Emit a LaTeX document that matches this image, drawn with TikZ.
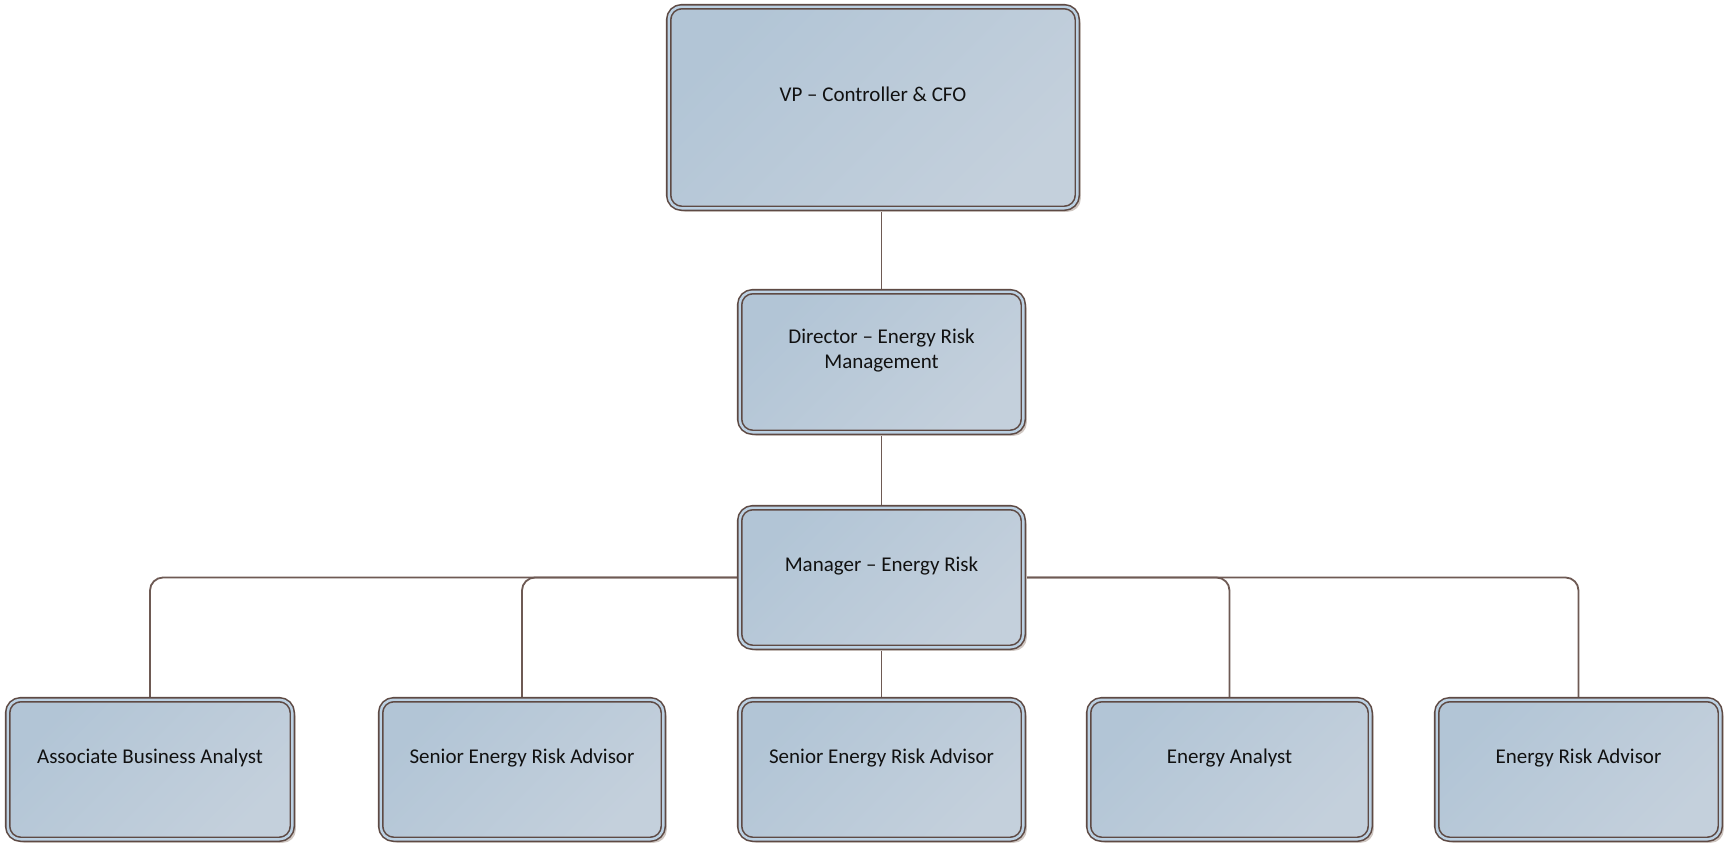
\documentclass[tikz,border=0pt]{standalone}
\usepackage{fontspec}
\setmainfont{Carlito}
\usetikzlibrary{shadows,backgrounds}
\definecolor{brd}{HTML}{5E4A44}
\definecolor{fillA}{HTML}{B2C5D6}
\definecolor{fillB}{HTML}{C4D0DC}
\definecolor{dbl}{HTML}{BCD1E3}
\definecolor{shd}{HTML}{CFC7C2}
\definecolor{connc}{HTML}{6E5A54}
\definecolor{txt}{HTML}{111111}
\begin{document}
\begin{tikzpicture}[x=1pt,y=-1pt,
  box/.style={rectangle, rounded corners=13pt, draw=brd, line width=1.6pt,
    double=dbl, double distance=2.4pt,
    top color=fillA, bottom color=fillB, shading angle=45,
    drop shadow={shadow xshift=3.5pt, shadow yshift=-3.5pt, fill=shd, opacity=1},
    font=\fontsize{21}{25}\selectfont, text=txt, align=center,
    inner sep=0pt, text height=14pt, text depth=27pt},
  conn/.style={draw=connc, line width=1.8pt, rounded corners=13pt}]
\useasboundingbox (0,0) rectangle (1732,847);
\node[box, minimum width=408.6pt, minimum height=201.6pt] (vp) at (873,107.5) {VP – Controller \& CFO};
\node[box, minimum width=283.6pt, minimum height=140.6pt, text height=40pt] (dir) at (881.5,362) {Director – Energy Risk\\Management};
\node[box, minimum width=283.6pt, minimum height=139.6pt] (mgr) at (881.5,577.5) {Manager – Energy Risk};
\node[box, minimum width=284.6pt, minimum height=139.6pt] (aba) at (150,769.5) {Associate Business Analyst};
\node[box, minimum width=282.6pt, minimum height=139.6pt] (sra) at (522,769.5) {Senior Energy Risk Advisor};
\node[box, minimum width=283.6pt, minimum height=139.6pt] (srb) at (881.5,769.5) {Senior Energy Risk Advisor};
\node[box, minimum width=281.6pt, minimum height=139.6pt] (ea) at (1229.5,769.5) {Energy Analyst};
\node[box, minimum width=283.6pt, minimum height=139.6pt] (era) at (1578.5,769.5) {Energy Risk Advisor};
\begin{pgfonlayer}{background}
\fill[white] (0,0) rectangle (1732,847);
\draw[conn] (dir.north) -- (dir.north |- vp.south);
\draw[conn] (dir.south) -- (mgr.north);
\draw[conn] (mgr.south) -- (srb.north);
\draw[conn] (mgr.west) -| (aba.north);
\draw[conn] (mgr.west) -| (sra.north);
\draw[conn] (mgr.east) -| (ea.north);
\draw[conn] (mgr.east) -| (era.north);
\end{pgfonlayer}
\end{tikzpicture}
\end{document}
